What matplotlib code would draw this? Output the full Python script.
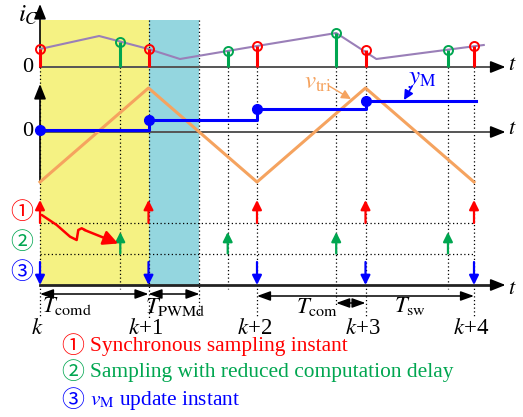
import matplotlib
matplotlib.use('Agg')
import matplotlib.pyplot as plt
from matplotlib.patches import Rectangle

plt.rcParams['font.family'] = ['Liberation Serif', 'Noto Sans CJK JP']
plt.rcParams['mathtext.fontset'] = 'stix'

# ── Data (time in sampling periods, signals in arbitrary units) ─────────────
k_instants      = [0, 1, 2, 3, 4]
k_labels        = ['$k$', '$k$+1', '$k$+2', '$k$+3', '$k$+4']
sample_instants = [0.74, 1.73, 2.73, 3.76]

ic_t    = [0, 0.545, 1, 1.29, 2, 2.73, 3.1, 4.09]
ic_val  = [1.8, 3.1, 1.8, 0.8, 2.1, 3.4, 0.8, 2.2]
ic_sync = [1.8, 1.8, 2.1, 1.7, 2.1]      # i_C at k instants (red)
ic_red  = [2.5, 1.6, 3.4, 1.7]           # i_C at reduced-delay instants (green)

tri_t   = [0, 1, 2, 3, 4]
tri_val = [-5.0, 4.4, -5.0, 4.4, -5.0]

ym_t    = [0, 1, 2, 3]
ym_val  = [0.2, 1.2, 2.35, 3.1]
ym_end  = 4.02

t_comd  = (0, 1)
t_pwmd  = (1, 1.47)
t_com   = (2.73, 3)
t_sw    = (2, 4)

legend_lines = ['Synchronous sampling instant',
                'Sampling with reduced computation delay',
                r'$v_{\mathrm{M}}$ update instant']

# ── Style ─────────────────────────────────────────────────────────────────────
RED, GREEN, BLUE = '#ff0000', '#00a650', '#0000ff'
ORANGE, PURPLE = '#f5a35f', '#9a7fb8'
YELLOW, CYAN = '#f5f283', '#94d6df'
AXC = '#555555'
FS = 15

W, H = 523, 417
T0_PX, PX_PER_T = 40, 108.5
XLIM = (-T0_PX / PX_PER_T, (W - T0_PX) / PX_PER_T)

fig = plt.figure(figsize=(W / 100, H / 100), dpi=100)


def overlay(base_px, ppu):
    """Full-figure axes sharing the time axis; value 0 sits at pixel row base_px."""
    ax = fig.add_axes([0, 0, 1, 1])
    ax.set_xlim(*XLIM)
    ax.set_ylim((base_px - H) / ppu, base_px / ppu)
    ax.axis('off')
    return ax


def arrow(ax, p0, p1, color='black', lw=1.2, style='-|>', ms=14, z=3):
    ax.annotate('', xy=p1, xytext=p0,
                arrowprops=dict(arrowstyle=style, color=color, lw=lw,
                                mutation_scale=ms, shrinkA=0, shrinkB=0),
                zorder=z)


# layout axes: x in periods, y in pixel rows from top
lay = overlay(0, -1)

# shaded intervals
lay.add_patch(Rectangle((t_comd[0], 20), t_comd[1] - t_comd[0], 265, color=YELLOW, lw=0, zorder=0))
lay.add_patch(Rectangle((t_pwmd[0], 20), t_pwmd[1] - t_pwmd[0], 265, color=CYAN, lw=0, zorder=0))

# dotted guides
dot = dict(color='black', lw=0.9, ls=(0, (1, 2)), zorder=1)
for t in k_instants:
    lay.plot([t, t], [20 if t == 1 else 67, 318], **dot)
for t in sample_instants:
    lay.plot([t, t], [67, 306 if t == t_com[0] else 289], **dot)
lay.plot([t_pwmd[1]] * 2, [20, 316], **dot)
lay.plot([k_instants[0], k_instants[-1]], [223, 223], **dot)
lay.plot([k_instants[0], k_instants[-1]], [253.5, 253.5], **dot)

# axes
ax_head = '-|>,head_length=0.45,head_width=0.18'
t_end = 4.29
lay.plot([0, t_end - 0.1], [67, 67], color=AXC, lw=1.4, zorder=2)
arrow(lay, (t_end - 0.12, 67), (t_end, 67), ms=20, style=ax_head)
arrow(lay, (0, 67), (0, 4), lw=1.2, ms=20, style=ax_head)
lay.plot([0, t_end - 0.1], [132, 132], color=AXC, lw=1.4, zorder=2)
arrow(lay, (t_end - 0.12, 132), (t_end, 132), ms=20, style=ax_head)
arrow(lay, (0, 182), (0, 84), lw=1.2, ms=20, style=ax_head)
lay.plot([0, t_end - 0.1], [285, 285], color='#222222', lw=2.0, zorder=2)
arrow(lay, (t_end - 0.12, 285), (t_end, 285), ms=20, style=ax_head)

for y in (67, 132):
    lay.text(-0.11, y, '0', fontsize=FS + 1, ha='center', va='center')
lay.text(-0.11, 15, '$i_C$', fontsize=FS + 3, ha='center', va='center')
for y in (65, 130, 290):
    lay.text(4.35, y, '$t$', fontsize=FS + 1, ha='center', va='center')

# timing rows
for t in k_instants:
    arrow(lay, (t, 223), (t, 200), color=RED, lw=1.6)
    arrow(lay, (t, 262), (t, 285), color=BLUE, lw=1.6)
for t in sample_instants:
    arrow(lay, (t, 253.5), (t, 232), color=GREEN, lw=1.6)

for y, c, s in [(213, RED, '①'), (243, GREEN, '②'), (273, BLUE, '③')]:
    lay.text(-0.166, y, s, color=c, fontsize=FS + 1.5, ha='center', va='center')

# zigzag delay arrow
zz_x = [0.016, 0.154, 0.277, 0.338, 0.353, 0.384, 0.415]
zz_y = [215, 225, 236.7, 240, 230, 228.3, 230]
lay.plot(zz_x, zz_y, color=RED, lw=1.8, zorder=4, solid_capstyle='round')
arrow(lay, (0.41, 230), (0.72, 243.5), color=RED, lw=1.8, ms=22, z=4)

# dimension arrows
dim = '<|-|>,head_length=0.5,head_width=0.18'
arrow(lay, (t_comd[0], 294), (t_comd[1], 294), lw=1.1, style=dim, ms=16)
arrow(lay, (t_pwmd[0], 294), (t_pwmd[1], 294), lw=1.1, style=dim, ms=16)
arrow(lay, (t_sw[0], 296), (t_sw[1], 296), lw=1.1, style=dim, ms=16)
arrow(lay, (t_com[0], 303), (t_com[1], 303), lw=1.1, style=dim, ms=16)
lay.text(0.25, 306, r'$T_{\mathrm{comd}}$', fontsize=FS + 1.5, ha='center', va='center')
lay.text(1.25, 307, r'$T_{\mathrm{PWMd}}$', fontsize=FS + 1.5, ha='center', va='center')
lay.text(2.555, 307, r'$T_{\mathrm{com}}$', fontsize=FS + 1.5, ha='center', va='center')
lay.text(3.41, 306, r'$T_{\mathrm{sw}}$', fontsize=FS + 1.5, ha='center', va='center')

for t, lab in zip(k_instants, k_labels):
    lay.text(t - 0.025, 328, lab, fontsize=FS + 1.5, ha='center', va='center')

# legend lines
for y, c, num, txt in zip([347, 373, 401], [RED, GREEN, BLUE], ['①', '②', '③'], legend_lines):
    lay.text(0.304, y, num, color=c, fontsize=FS + 1.5, ha='center', va='center')
    lay.text(0.463, y, txt, color=c, fontsize=FS + 0.4, ha='left', va='center')

# ── i_C panel ──
ax_ic = overlay(67, 10)
ax_ic.plot(ic_t, ic_val, color=PURPLE, lw=1.5, zorder=2)
ax_ic.vlines(k_instants, 0, ic_sync, color=RED, lw=2.2, zorder=3)
ax_ic.vlines(sample_instants, 0, ic_red, color=GREEN, lw=2.2, zorder=3)
ax_ic.plot(k_instants, ic_sync, 'o', ms=6.5, mfc='none', mec=RED, mew=1.4, zorder=4)
ax_ic.plot(sample_instants, ic_red, 'o', ms=6.5, mfc='none', mec=GREEN, mew=1.4, zorder=4)

# ── v_tri / y_M panel ──
ax_v = overlay(132, 10)
ax_v.plot(tri_t, tri_val, color=ORANGE, lw=2.2, zorder=2)
ax_v.step(ym_t + [ym_end], ym_val + [ym_val[-1]], where='post', color=BLUE, lw=2.2, zorder=3)
ax_v.plot(ym_t, ym_val, 'o', color=BLUE, ms=7, zorder=4)

lay.text(2.56, 83, r'$v_{\mathrm{tri}}$', color=ORANGE, fontsize=FS + 3, ha='center', va='center')
arrow(lay, (2.665, 86), (2.866, 99), color=ORANGE, lw=1.0, ms=14, z=5)
lay.text(3.52, 79, r'$y_{\mathrm{M}}$', color=BLUE, fontsize=FS + 3, ha='center', va='center')
arrow(lay, (3.43, 86), (3.355, 100), color=BLUE, lw=1.2, ms=14, z=5)

fig.savefig('out.png', dpi=100)
